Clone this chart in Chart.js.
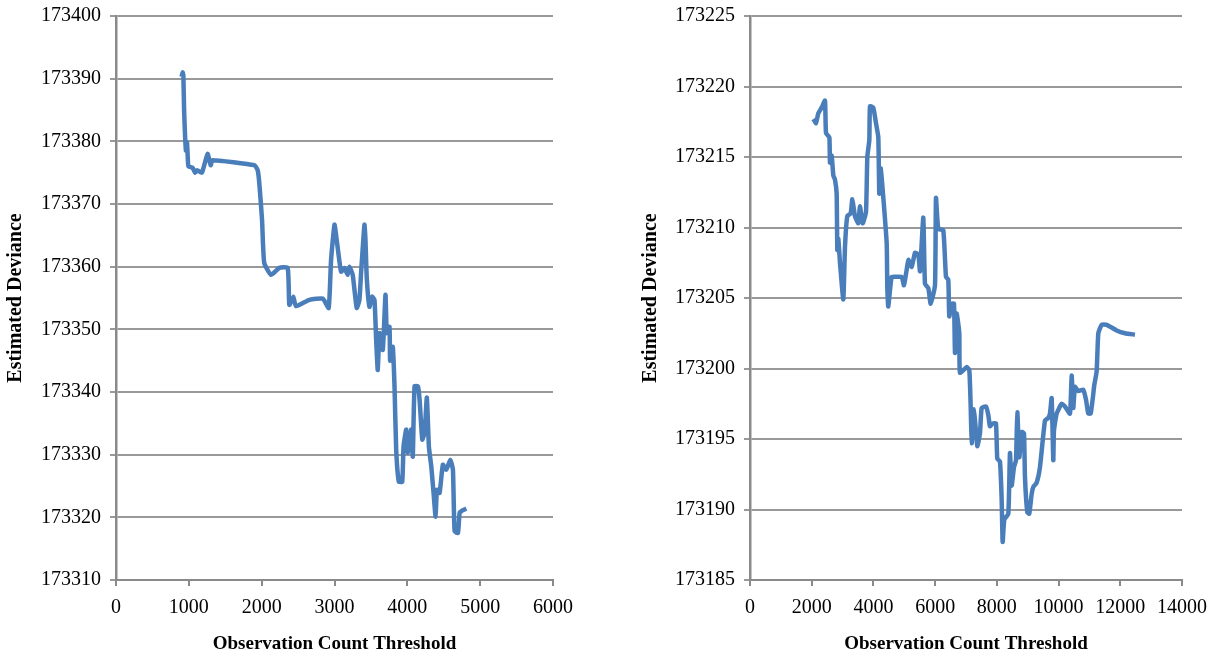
<!DOCTYPE html>
<html lang="en">
<head>
<meta charset="UTF-8">
<title>Estimated Deviance vs Observation Count Threshold</title>
<style>
html, body { margin: 0; padding: 0; background: #fff; overflow: hidden; }
.wrap { position: relative; width: 1217px; height: 658px; overflow: hidden; }
canvas { position: absolute; top: -6px; }
#leftChart { left: 0; }
#rightChart { left: 635px; }
</style>
</head>
<body>
<div class="wrap">
<canvas id="leftChart" width="600" height="664"></canvas>
<canvas id="rightChart" width="582" height="664"></canvas>
</div>
<script src="https://cdn.jsdelivr.net/npm/chart.js@4/dist/chart.umd.min.js"></script>
<script>
// left panel
var leftThreshold = [900, 915, 925, 935, 960, 975, 985, 995, 1050, 1087, 1115, 1180, 1257, 1300, 1325,
  1900, 1945, 1967, 2005, 2035, 2128, 2242, 2357, 2380, 2435, 2470, 2655, 2840, 2920, 2953,
  3000, 3030, 3090, 3136, 3182, 3205, 3250, 3305, 3342, 3365, 3411, 3425, 3443, 3480, 3517,
  3549, 3572, 3594, 3617, 3663, 3700, 3718, 3755, 3764, 3800, 3824, 3847, 3883, 3930, 3948,
  3985, 4007, 4053, 4075, 4099, 4145, 4168, 4205, 4237, 4268, 4296, 4329, 4360, 4388, 4406,
  4443, 4488, 4534, 4590, 4626, 4649, 4695, 4718, 4755, 4810];
var leftDeviance = [173390.3, 173391, 173390.5, 173385, 173378.5, 173379.8, 173377.5, 173376, 173375.8, 173375, 173375.4, 173375, 173378, 173376.2, 173377,
  173376.2, 173375.4, 173373.4, 173367.5, 173360.6, 173358.7, 173359.8, 173359.8, 173353.9, 173355.2, 173353.7, 173354.7, 173354.9, 173353.4, 173361.1,
  173366.7, 173364.3, 173359.2, 173359.8, 173358.7, 173360, 173358.7, 173353.4, 173354.7, 173359, 173366.7, 173364.3, 173358.2, 173353.6, 173355.2,
  173354.7, 173348.3, 173343.5, 173349.4, 173346.7, 173355.5, 173349.4, 173350.4, 173345, 173347.2, 173340.9, 173330.8, 173325.7, 173325.7, 173331.3,
  173334, 173330.3, 173334, 173329.7, 173340.9, 173340.9, 173338.8, 173332.4, 173333.5, 173339.1, 173331.3, 173328.1, 173323.9, 173320.1, 173324.4,
  173323.9, 173328.4, 173327.6, 173329.2, 173327.6, 173317.8, 173317.5, 173320.7, 173321.1, 173321.4];

// right panel
var rightThreshold = [2052, 2139, 2214, 2322, 2430, 2463, 2571, 2592, 2646, 2700, 2754, 2808, 2830, 2862, 2916,
  3024, 3078, 3153, 3263, 3316, 3402, 3510, 3564, 3651, 3759, 3802, 3867, 3889, 3996, 4083,
  4158, 4190, 4234, 4299, 4429, 4450, 4482, 4591, 4753, 4915, 4990, 5077, 5132, 5240, 5347,
  5455, 5509, 5617, 5671, 5779, 5855, 5995, 6027, 6102, 6264, 6351, 6426, 6458, 6535, 6610,
  6643, 6697, 6783, 6805, 7021, 7107, 7152, 7184, 7259, 7366, 7453, 7508, 7647, 7723, 7777,
  7863, 7971, 8014, 8101, 8156, 8188, 8242, 8371, 8425, 8480, 8555, 8620, 8663, 8728, 8804,
  8879, 8911, 8986, 9050, 9128, 9182, 9290, 9397, 9559, 9667, 9721, 9776, 9829, 9851, 9938,
  10100, 10207, 10369, 10424, 10477, 10531, 10638, 10800, 10888, 10963, 11040, 11104, 11156, 11234, 11288,
  11396, 11558, 11882, 12152, 12476];
var rightDeviance = [173217.7, 173217.4, 173218.1, 173218.5, 173219.0, 173216.7, 173216.4, 173214.6, 173215.1, 173213.7, 173213.4, 173212.4, 173208.4, 173209.2, 173207.5,
  173204.9, 173208.6, 173210.8, 173211, 173212, 173210.8, 173210.3, 173211.5, 173210.3, 173211.1, 173215, 173216.2, 173218.6, 173218.5, 173217.4,
  173216.4, 173212.4, 173214.2, 173212.7, 173208.9, 173205.7, 173204.4, 173206.5, 173206.5, 173206.5, 173205.9, 173207, 173207.7, 173207.2, 173208.2,
  173208.1, 173206.9, 173210.7, 173206, 173205.7, 173204.6, 173205.9, 173212.1, 173209.9, 173209.8, 173206.5, 173206.3, 173203.7, 173204.6, 173204.6,
  173201.1, 173203.9, 173202.5, 173199.7, 173200.1, 173199.9, 173197.3, 173194.7, 173197.1, 173194.5, 173195.4, 173197.2, 173197.3, 173196.7, 173195.9,
  173196.1, 173196.1, 173193.6, 173193.4, 173190.7, 173187.7, 173189.3, 173189.7, 173194, 173191.7, 173193, 173193.5, 173196.9, 173193.7, 173195.5,
  173195.4, 173192.3, 173189.8, 173189.7, 173191.1, 173191.6, 173191.9, 173193, 173196.3, 173196.5, 173196.8, 173197.9, 173193.5, 173195.6, 173196.8,
  173197.5, 173197.3, 173196.8, 173199.5, 173197.2, 173198.7, 173198.4, 173198.5, 173197.8, 173196.8, 173196.8, 173197.8, 173198.8, 173199.8, 173202.5,
  173203.1, 173203.1, 173202.7, 173202.5, 173202.4];

var xTitle = 'Observation Count Threshold';
var yTitle = 'Estimated Deviance';

function plain(v) { return String(v); }

function makeChart(id, xs, ys, xMax, xStep, yMin, yMax, yStep, axisWidth, padRight) {
  var points = xs.map(function(x, i) { return {x: x, y: ys[i]}; });
  var ctx = document.getElementById(id).getContext('2d');
  return new Chart(ctx, {
    type: 'line',
    data: {
      datasets: [{
        data: points,
        borderColor: '#4a7ebb',
        borderWidth: 4.5,
        pointRadius: 0,
        tension: 0.15,
        fill: false
      }]
    },
    options: {
      responsive: false,
      animation: false,
      // canvas sits 6px above the page, so top 22 puts the plot top at 16
      layout: { padding: { left: 0, right: padRight, top: 22, bottom: 0 } },
      plugins: { legend: { display: false }, tooltip: { enabled: false } },
      scales: {
        x: {
          type: 'linear',
          min: 0, max: xMax,
          ticks: { stepSize: xStep, color: '#000', padding: 10, maxRotation: 0, callback: plain,
                   font: { family: 'Liberation Serif', size: 20 } },
          grid: { drawOnChartArea: false, color: '#8a8a8a', tickLength: 6, lineWidth: 2 },
          border: { color: '#8a8a8a', width: 2 },
          title: { display: true, text: xTitle, color: '#000', padding: { top: 4, bottom: 3 },
                   font: { family: 'Liberation Serif', size: 19, weight: 'bold' } },
          afterFit: function(s) { s.height = 78; }
        },
        y: {
          min: yMin, max: yMax,
          ticks: { stepSize: yStep, color: '#000', padding: 9, callback: plain,
                   font: { family: 'Liberation Serif', size: 20 } },
          grid: { color: '#999999', tickLength: 6, lineWidth: 2 },
          border: { color: '#8a8a8a', width: 2.5 },
          title: { display: true, text: yTitle, color: '#000', padding: { top: 4, bottom: 4 },
                   font: { family: 'Liberation Serif', size: 20, weight: 'bold' } },
          afterFit: function(s) { s.width = axisWidth; }
        }
      }
    }
  });
}

makeChart('leftChart', leftThreshold, leftDeviance, 6000, 1000, 173310, 173400, 10, 116, 47);
makeChart('rightChart', rightThreshold, rightDeviance, 14000, 2000, 173185, 173225, 5, 115, 35);
</script>
</body>
</html>
